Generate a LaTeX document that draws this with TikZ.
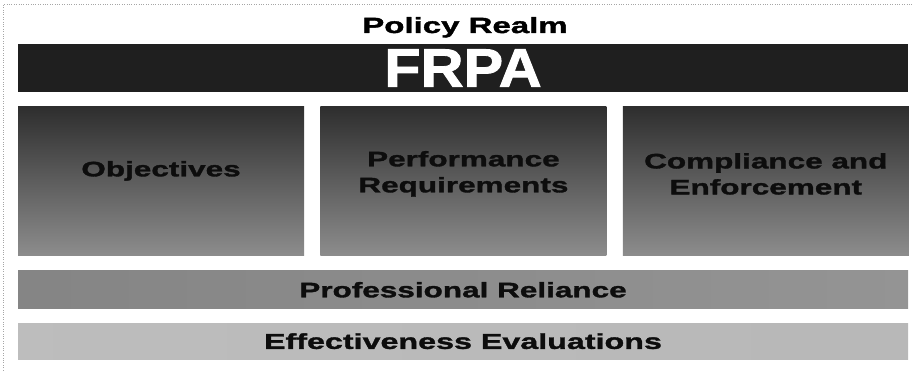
\documentclass[tikz,border=0pt]{standalone}
\usepackage{fontspec}
\usepackage{xcolor}
\usepackage{tikz}
\usetikzlibrary{positioning}

\newfontfamily\widefont[FakeStretch=1.5,FakeBold=1.6]{Liberation Sans}
\newfontfamily\frpafont[FakeStretch=1.1,FakeBold=1.6]{Liberation Sans}

\begin{document}
\begin{tikzpicture}[x=1pt,y=1pt,node distance=14pt]

  
  \tikzstyle{bar}=[rectangle,inner sep=0pt,minimum width=890pt]
  \tikzstyle{pillar}=[rectangle,inner sep=0pt,minimum width=286pt,minimum height=149pt,
    top color=black!82,bottom color=black!45]
  \tikzstyle{label}=[inner sep=0pt,align=center,text=black!95,
    font=\widefont\bfseries\fontsize{21}{26}\selectfont]

  \useasboundingbox (0,0) rectangle (915,370);

  
  \draw[black!35,dotted] (3,0) |- (913,366);

  
  \node[bar,fill=black!88,minimum height=48pt] (frpa) at (463,302) {};
  \node[inner sep=0pt,text=white,font=\frpafont\bfseries\fontsize{54}{54}\selectfont]
    (frpatext) at (frpa.center) {FRPA};
  \node[inner sep=0pt,anchor=base,font=\widefont\bfseries\fontsize{22}{26}\selectfont]
    (realm) at (465,337) {Policy Realm};

  
  \node[pillar,below right=14pt and 0pt of frpa.south west] (obj) {};
  \node[pillar,right=16pt of obj] (perf) {};
  \node[pillar,right=16pt of perf] (comp) {};

  \node[label] (objtext) at ([yshift=10pt]obj.center) {Objectives};
  \node[label] (perftext) at ([yshift=7pt]perf.center) {Performance\\Requirements};
  \node[label] (comptext) at ([yshift=7pt]comp.center) {Compliance and\\Enforcement};

  
  \node[bar,minimum height=38pt,left color=black!48,middle color=black!32,right color=black!42,
    below right=15pt and 0pt of obj.south west] (rely) {};
  \node[bar,minimum height=36pt,left color=black!26,middle color=black!20,right color=black!28,
    below=14pt of rely] (eval) {};

  \node[label] (relytext) at (rely.center) {Professional Reliance};
  \node[label,font=\widefont\bfseries\fontsize{21.5}{26}\selectfont]
    (evaltext) at (eval.center) {Effectiveness Evaluations};

\end{tikzpicture}
\end{document}
